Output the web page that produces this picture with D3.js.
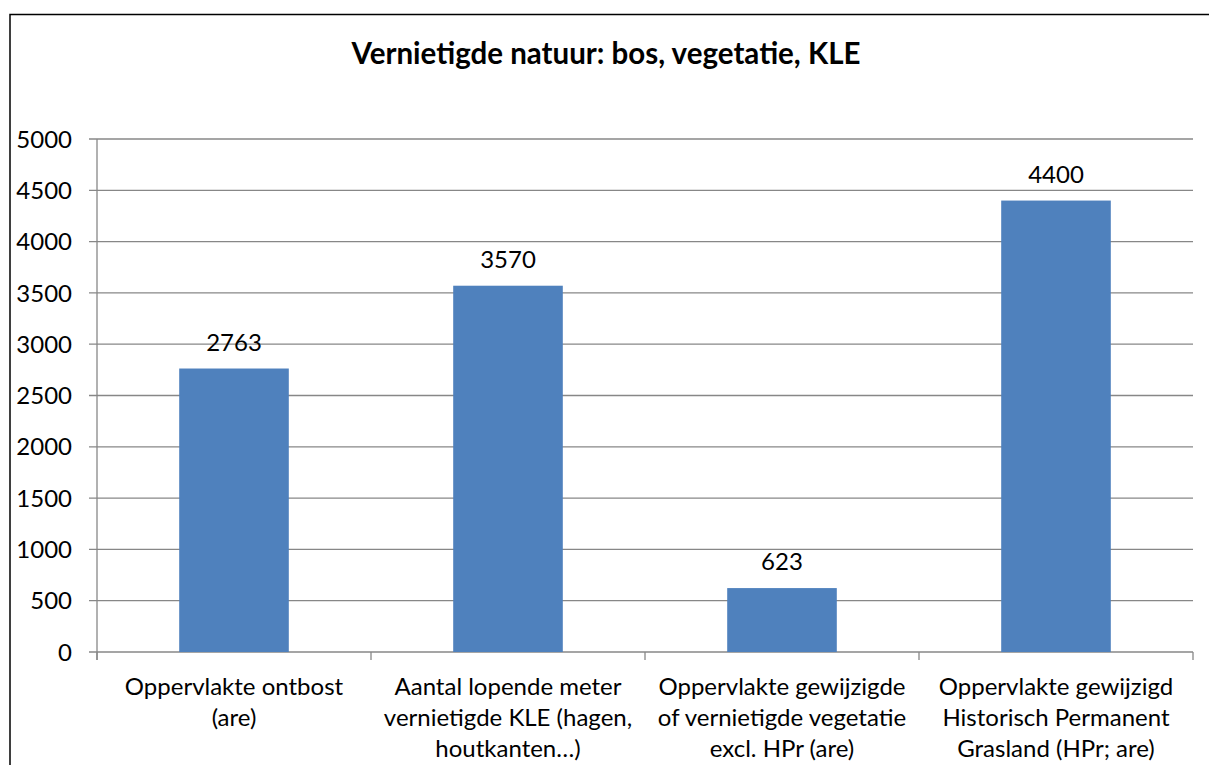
<!DOCTYPE html>
<html><head><meta charset="utf-8">
<script src="https://cdn.jsdelivr.net/npm/d3@7"></script>
<style>body{margin:0;background:#fff}svg{display:block}</style>
</head><body>
<script>
const categories = [
  ["Oppervlakte ontbost", "(are)"],
  ["Aantal lopende meter", "vernietigde KLE (hagen,", "houtkanten…)"],
  ["Oppervlakte gewijzigde", "of vernietigde vegetatie", "excl. HPr (are)"],
  ["Oppervlakte gewijzigd", "Historisch Permanent", "Grasland (HPr; are)"]
];
const values = [2763, 3570, 623, 4400];
const yTicks = [0, 500, 1000, 1500, 2000, 2500, 3000, 3500, 4000, 4500, 5000];
const title = "Vernietigde natuur: bos, vegetatie, KLE";

(function () {
const W = 1209, H = 765;
const font = "Lato, sans-serif";
const fs = 24;
const svg = d3.select("body").append("svg").attr("width", W).attr("height", H);
svg.append("rect").attr("x", 10).attr("y", 14.5).attr("width", 1300).attr("height", 900)
  .attr("fill", "#fff").attr("stroke", "#000").attr("stroke-width", 1.5);

const pL = 97, pR = 1193, pT = 139, pB = 652;
const x = d3.scaleBand().domain(d3.range(categories.length)).range([pL, pR]).paddingInner(0.6).paddingOuter(0.3);
const xb = d3.scaleBand().domain(d3.range(categories.length)).range([pL, pR]);
const y = d3.scaleLinear().domain([0, 5000]).range([pB, pT]);

svg.append("text").attr("x", 606).attr("y", 64).attr("text-anchor", "middle")
  .attr("font-family", font).attr("font-weight", "bold").attr("font-size", 29.5).attr("fill", "#000").text(title);

const grid = "#878787";
svg.append("g").selectAll("line").data(yTicks).join("line")
  .attr("x1", pL - 8).attr("x2", pR).attr("y1", d => y(d)).attr("y2", d => y(d))
  .attr("stroke", grid).attr("stroke-width", 1.3);
svg.append("g").selectAll("text").data(yTicks).join("text")
  .attr("x", 72).attr("y", d => y(d)).attr("dy", "0.36em").attr("text-anchor", "end")
  .attr("font-family", font).attr("font-size", fs).attr("fill", "#000").text(d => d);

svg.append("line").attr("x1", pL).attr("x2", pL).attr("y1", pT).attr("y2", pB + 8)
  .attr("stroke", grid).attr("stroke-width", 1.3);
const xt = d3.range(categories.length + 1).map(i => i === categories.length ? pR : xb(i));
svg.append("g").selectAll("line").data(xt).join("line")
  .attr("x1", d => d).attr("x2", d => d).attr("y1", pB).attr("y2", pB + 8)
  .attr("stroke", grid).attr("stroke-width", 1.3);

svg.append("g").selectAll("rect").data(values).join("rect")
  .attr("x", (d, i) => x(i)).attr("width", x.bandwidth())
  .attr("y", d => y(d)).attr("height", d => pB - y(d))
  .attr("fill", "#4F81BD");

svg.append("g").selectAll("text").data(values).join("text")
  .attr("x", (d, i) => x(i) + x.bandwidth() / 2).attr("y", d => y(d) - 18)
  .attr("text-anchor", "middle").attr("font-family", font).attr("font-size", fs).attr("fill", "#000")
  .text(d => d);

const cg = svg.append("g").selectAll("text").data(categories).join("text")
  .attr("x", (d, i) => xb(i) + xb.bandwidth() / 2).attr("y", 695)
  .attr("text-anchor", "middle").attr("font-family", font).attr("font-size", fs).attr("fill", "#000");
cg.selectAll("tspan").data(d => d).join("tspan")
  .attr("x", function() { return this.parentNode.getAttribute("x"); })
  .attr("dy", (d, j) => j === 0 ? 0 : 31).text(d => d);
})();
</script>
</body></html>
